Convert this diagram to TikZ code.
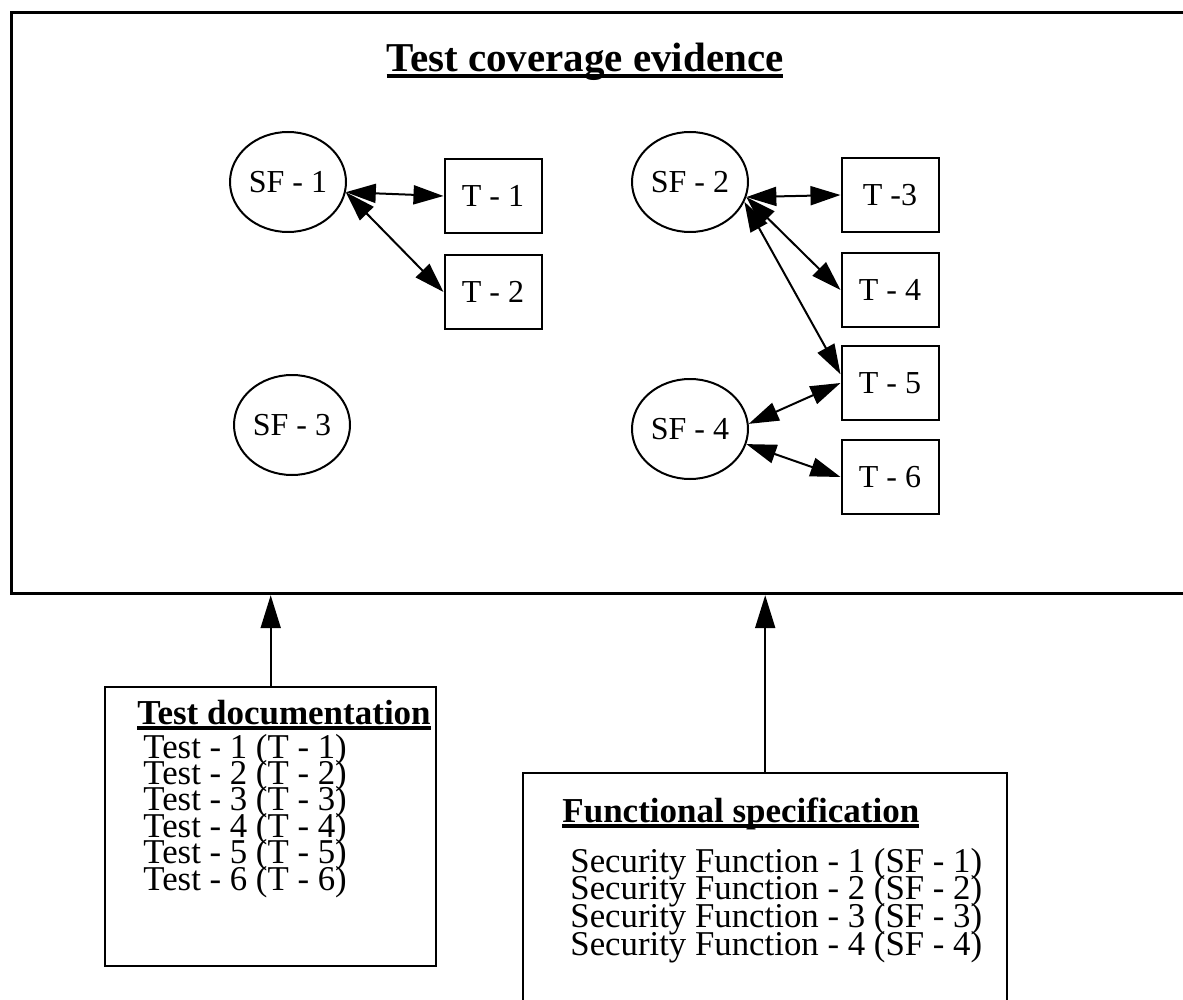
\documentclass[tikz,border=0pt]{standalone}
\usepackage{fontspec}
\setmainfont{Liberation Serif}
\usetikzlibrary{arrows.meta,shapes.geometric}

\newcommand{\ulhead}[1]{\sbox0{\bfseries #1}\rlap{\rule[-3pt]{\wd0}{2pt}}\usebox0}
\newcommand{\tightlines}{\lineskiplimit=-30pt\relax\lineskip=0pt\relax}

\tikzset{
  >={Triangle[length=15pt,width=9.5pt]},
  func/.style={draw,ellipse,line width=1pt,minimum width=58pt,minimum height=50pt,inner sep=0pt,font=\fontsize{16}{19}\selectfont},
  test/.style={draw,rectangle,line width=1pt,minimum width=48.5pt,minimum height=37pt,inner sep=0pt,font=\fontsize{16}{19}\selectfont},
  link/.style={<->,line width=1pt},
  docbox/.style={draw,line width=1.2pt,anchor=north west,inner sep=0pt},
  listing/.style={align=left,anchor=base west,inner sep=0pt,font=\fontsize{17.4}{#1}\selectfont\tightlines},
  head/.style={inner sep=0pt,font=\fontsize{17.5}{21}\selectfont}
}

\begin{document}
\begin{tikzpicture}[x=0.5pt,y=-0.5pt]
	\useasboundingbox (0,0) rectangle (1183,1000);
	% evidence box
	\node[draw,line width=1.6pt,anchor=north west,inner sep=0pt,minimum width=590pt,minimum height=290.5pt] (evidence) at (10,11) {};
	\node[head,anchor=base,font=\fontsize{20.5}{24}\selectfont] (title) at (585,72) {\ulhead{Test coverage evidence}};

	\node[func] (sf1) at (288,182) {SF - 1};
	\node[func] (sf2) at (690,182) {SF - 2};
	\node[func] (sf3) at (292,425) {SF - 3};
	\node[func] (sf4) at (690,429) {SF - 4};

	\node[test] (t1) at (493,196) {T - 1};
	\node[test] (t2) at (493,292) {T - 2};
	\node[test] (t3) at (890,195) {T -3};
	\node[test] (t4) at (890,290) {T - 4};
	\node[test] (t5) at (890,383) {T - 5};
	\node[test] (t6) at (890,477) {T - 6};

	\draw[link] (sf1.-10) -- (t1.west);
	\draw[link] (sf1.-10) -- (t2.west);
	\draw[link] (sf2.-15) -- (t3.west);
	\draw[link] (sf2.-15) -- (t4.west);
	\draw[link] (sf2.-20) -- (t5.170);
	\draw[link] (sf4.5) -- (t5.west);
	\draw[link] (sf4.-15) -- (t6.west);

	% documents below
	\node[docbox,minimum width=165.5pt,minimum height=139.5pt] (testdoc) at (104,686) {};
	\node[head,anchor=base west] (testhead) at (137,724) {\ulhead{Test documentation}};
	\node[listing=13.2] (testlist) at (143,890) {Test - 1 (T - 1)\\Test - 2 (T - 2)\\Test - 3 (T - 3)\\Test - 4 (T - 4)\\Test - 5 (T - 5)\\Test - 6 (T - 6)};

	\node[docbox,minimum width=242pt,minimum height=120pt] (funcspec) at (522,772) {};
	\node[head,anchor=base west] (funchead) at (562,822) {\ulhead{Functional specification}};
	\node[listing=13.8] (funclist) at (570,955) {Security Function - 1 (SF - 1)\\Security Function - 2 (SF - 2)\\Security Function - 3 (SF - 3)\\Security Function - 4 (SF - 4)};

	\draw[->,line width=1pt,>={Triangle[length=16.5pt,width=10pt]}] (testdoc.north) -- (testdoc.north |- evidence.south);
	\draw[->,line width=1pt,>={Triangle[length=16.5pt,width=10pt]}] (funcspec.north) -- (funcspec.north |- evidence.south);
\end{tikzpicture}
\end{document}
